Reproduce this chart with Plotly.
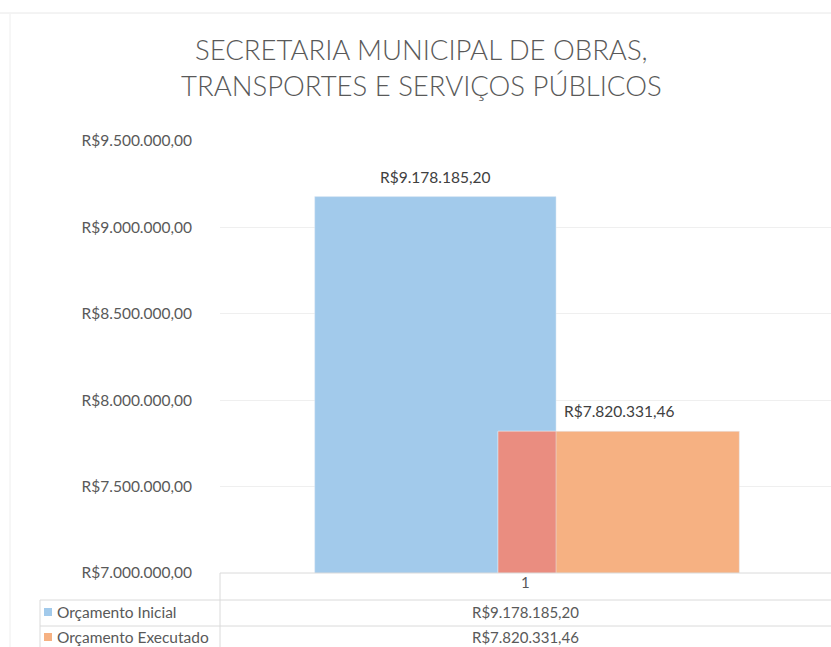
import plotly.graph_objects as go

categories = ["1"]
series_names = ["Orçamento Inicial", "Orçamento Executado"]
values_inicial = [9178185.20]
values_executado = [7820331.46]
y_tick_vals = [7000000, 7500000, 8000000, 8500000, 9000000, 9500000]
y_tick_text = ["R$7.000.000,00", "R$7.500.000,00", "R$8.000.000,00",
               "R$8.500.000,00", "R$9.000.000,00", "R$9.500.000,00"]


def brl(v):
    s = f"{v:,.2f}"
    return "R$" + s.replace(",", "X").replace(".", ",").replace("X", ".")


BLUE = "#A2CAEB"
ORANGE = "#F6B182"
OVERLAP = "#EA8D80"
TXT = "#595959"
FONT = "Lato"

bar_w = 0.395
off_blue = -0.345
off_orange = -0.045

fig = go.Figure()
fig.add_trace(go.Bar(
    x=[0], y=values_inicial, name=series_names[0], marker_color=BLUE,
    width=bar_w, offset=off_blue, showlegend=False,
))
fig.add_trace(go.Bar(
    x=[0], y=values_executado, name=series_names[1], marker_color=ORANGE,
    width=bar_w, offset=off_orange, showlegend=False,
))
# overlap region of the two bars (rendered darker in the reference)
ov_w = (off_blue + bar_w) - off_orange
fig.add_trace(go.Bar(
    x=[0], y=[min(values_inicial[0], values_executado[0])],
    marker_color=OVERLAP, width=ov_w, offset=off_orange,
    showlegend=False, hoverinfo="skip",
))

# value labels above each bar
for vals, off in ((values_inicial, off_blue), (values_executado, off_orange)):
    fig.add_annotation(x=off + bar_w / 2, y=vals[0], xref="x", yref="y",
                       text=brl(vals[0]), showarrow=False, yanchor="bottom", yshift=9,
                       font=dict(family=FONT, size=15.5, color="#404040"))

L, R, T, B = 220, 0, 141, 74
W, H = 831, 647
fig.update_layout(
    width=W, height=H, barmode="overlay",
    margin=dict(l=L, r=R, t=T, b=B),
    paper_bgcolor="white", plot_bgcolor="white",
    font=dict(family=FONT, color=TXT),
    title=dict(
        text="SECRETARIA MUNICIPAL DE OBRAS,<br>TRANSPORTES E SERVIÇOS PÚBLICOS",
        x=0.507, xanchor="center", y=1 - 60 / H, yanchor="middle",
        font=dict(family=FONT, size=27.5, color=TXT, weight=300),
    ),
    xaxis=dict(range=[-0.5, 0.5], showticklabels=False, showgrid=False,
               zeroline=False, showline=False, fixedrange=True),
    yaxis=dict(range=[7000000, 9500000], tickvals=y_tick_vals, ticktext=y_tick_text,
               tickfont=dict(family=FONT, size=15.5, color=TXT),
               showgrid=True, gridcolor="#EFEFEF", gridwidth=1,
               zeroline=False, showline=False, ticks="", ticklabelstandoff=27),
)


def xfrac(xpx):
    return (xpx - L) / (W - L - R)


def yfrac(ypx):
    return -(ypx - (H - B)) / (H - T - B)


line = dict(color="#DADADA", width=1)
fig.add_shape(type="line", xref="paper", yref="paper", x0=0, x1=1, y0=0, y1=0, line=line)
for yy in (600, 626):
    fig.add_shape(type="line", xref="paper", yref="paper",
                  x0=xfrac(40), x1=1, y0=yfrac(yy), y1=yfrac(yy), line=line)
fig.add_shape(type="line", xref="paper", yref="paper", x0=0, x1=0,
              y0=yfrac(647), y1=0, line=line)
fig.add_shape(type="line", xref="paper", yref="paper", x0=xfrac(40), x1=xfrac(40),
              y0=yfrac(647), y1=yfrac(600), line=line)

fig.add_annotation(x=0, y=yfrac(582), xref="x", yref="paper", text=categories[0],
                   showarrow=False, yanchor="middle",
                   font=dict(family=FONT, size=15, color=TXT))
rows = [(series_names[0], values_inicial[0], BLUE, 612),
        (series_names[1], values_executado[0], ORANGE, 637)]
for name, val, col, ycen in rows:
    fig.add_annotation(x=0, y=yfrac(ycen), xref="x", yref="paper", text=brl(val),
                       showarrow=False, yanchor="middle",
                       font=dict(family=FONT, size=15, color=TXT))
    fig.add_annotation(x=xfrac(55), y=yfrac(ycen), xref="paper", yref="paper",
                       text=name, xanchor="left", yanchor="middle", showarrow=False,
                       font=dict(family=FONT, size=15.5, color=TXT))
    fig.add_shape(type="rect", xref="paper", yref="paper",
                  x0=xfrac(44), x1=xfrac(52),
                  y0=yfrac(ycen + 4), y1=yfrac(ycen - 4),
                  fillcolor=col, line=dict(width=0))

# faint chart border from the scan
fig.add_shape(type="line", xref="paper", yref="paper", x0=xfrac(10), x1=xfrac(10),
              y0=yfrac(647), y1=yfrac(14), line=dict(color="#EEEEEE", width=1))
fig.add_shape(type="line", xref="paper", yref="paper", x0=xfrac(0), x1=1,
              y0=yfrac(13), y1=yfrac(13), line=dict(color="#E8E8E8", width=1))

fig.write_html("out.html", config={"displayModeBar": False},
               post_script="document.body.style.margin='0';document.body.style.overflow='hidden';")
